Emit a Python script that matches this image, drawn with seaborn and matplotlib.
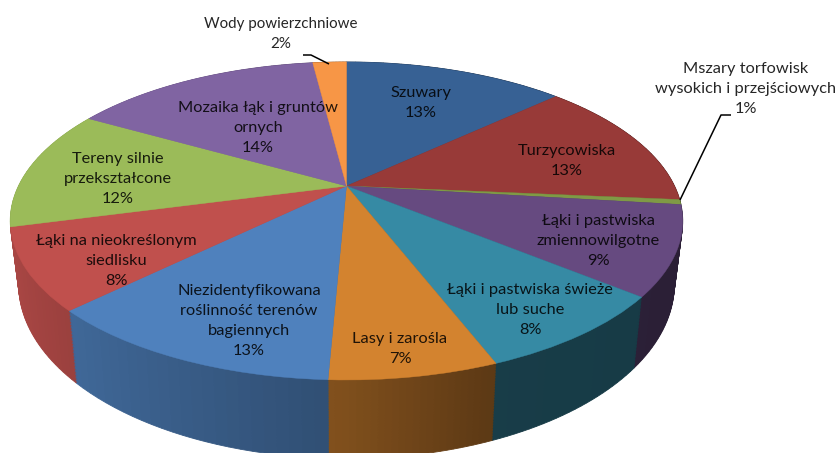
import numpy as np
import matplotlib
matplotlib.use("Agg")
import matplotlib.pyplot as plt
from matplotlib.transforms import Transform
import seaborn as sns

# values, printed percent is kept apart because it is rounded
categories = [
    "Szuwary",
    "Turzycowiska",
    "Mszary torfowisk\nwysokich i przejściowych",
    "Łąki i pastwiska\nzmiennowilgotne",
    "Łąki i pastwiska świeże\nlub suche",
    "Lasy i zarośla",
    "Niezidentyfikowana\nroślinność terenów\nbagiennych",
    "Łąki na nieokreślonym\nsiedlisku",
    "Tereny silnie\nprzekształcone",
    "Mozaika łąk i gruntów\nornych",
    "Wody powierzchniowe",
]
values = [13.1, 13.3, 0.5, 9.0, 8.2, 6.6, 12.0, 8.2, 12.3, 14.8, 2.0]
percent_labels = ["13%", "13%", "1%", "9%", "8%", "7%", "13%", "8%", "12%", "14%", "2%"]
face_colors = ["#376194", "#983a38", "#7f9a45", "#664a80", "#368aa4", "#d3832f",
               "#4f81bd", "#c0504d", "#9bbb59", "#8064a2", "#f79646"]

label_x = [421, 567, 746, 598, 530, 400, 249, 116, 118, 258, 281]
label_y = [103, 161, 89, 241, 310, 349, 321, 261, 179, 128, 34]
label_size = [11.8, 11.8, 11.8, 11.8, 11.8, 11.8, 11.8, 11.8, 11.8, 11.8, 10.9]

# pie geometry in pixels of the picture
CX, CY = 346.5, 186
RX, RY = 328, 151.3
PERSP = 0.22
DEPTH = 60
N_LAYERS = 50
N_SUB = 24

sns.set_theme(style="white")
plt.rcParams['font.family'] = ['Lato', 'DejaVu Sans']


class TiltedPie(Transform):
    # maps the unit circle of ax.pie to the tilted disc, t=0 top face, t=1 bottom rim
    input_dims = 2
    output_dims = 2
    has_inverse = False

    def __init__(self, t=0.0):
        super().__init__()
        self.t = t

    def transform_non_affine(self, xy):
        xy = np.asarray(xy, dtype=float)
        w = 1 + PERSP * xy[:, 1]
        dx = RX * xy[:, 0] / w
        dy = -RY * xy[:, 1] / w
        sx = 1 - 0.025 * self.t
        sy = 1 + 0.096 * self.t
        return np.column_stack([CX + dx * sx, CY + dy * sy + DEPTH * self.t])


def side_colors():
    # darken every slice by where its small piece lies left to right
    edges = np.cumsum([0] + values) / sum(values) * 2 * np.pi
    out = []
    for i, base in enumerate(sns.color_palette(face_colors)):
        steps = np.linspace(edges[i], edges[i + 1], N_SUB + 1)
        mids = (steps[:-1] + steps[1:]) / 2
        shade = np.interp(np.sin(mids), [-1, -0.7, 0, 0.35, 1], [0.9, 0.8, 0.6, 0.44, 0.42])
        out.extend(tuple(np.array(base) * s) for s in shade)
    return out


fig = plt.figure(figsize=(8.4, 4.53), dpi=100)
ax = fig.add_axes([0, 0, 1, 1])

sub_values = np.repeat(np.array(values) / N_SUB, N_SUB)
sub_colors = side_colors()

# the rim: stacked pies from the bottom up
for t in np.linspace(1, 0, N_LAYERS):
    wedges, _ = ax.pie(sub_values, colors=sub_colors, startangle=90, counterclock=False)
    for w, c in zip(wedges, sub_colors):
        w.set_transform(TiltedPie(t) + ax.transData)
        w.set_edgecolor(c)
        w.set_linewidth(0.6)

# top face
wedges, _ = ax.pie(values, colors=face_colors, startangle=90, counterclock=False)
for w, c in zip(wedges, face_colors):
    w.set_transform(TiltedPie(0.0) + ax.transData)
    w.set_edgecolor(c)
    w.set_linewidth(0.3)

ax.set_aspect('auto')
ax.set_xlim(0, 840)
ax.set_ylim(453, 0)
ax.axis('off')

for name, pct, x, y, s in zip(categories, percent_labels, label_x, label_y, label_size):
    ax.text(x, y, f"{name}\n{pct}", ha='center', va='center', fontsize=s,
            linespacing=1.53, color='black', alpha=0.85)

# leader lines of the two small slices
ax.plot([303, 311, 329], [55, 55, 64], color='black', lw=1.1, solid_capstyle='butt')
ax.plot([731, 721, 680], [115, 115, 200], color='black', lw=1.1, solid_capstyle='butt')

fig.savefig("out.png", dpi=100)
